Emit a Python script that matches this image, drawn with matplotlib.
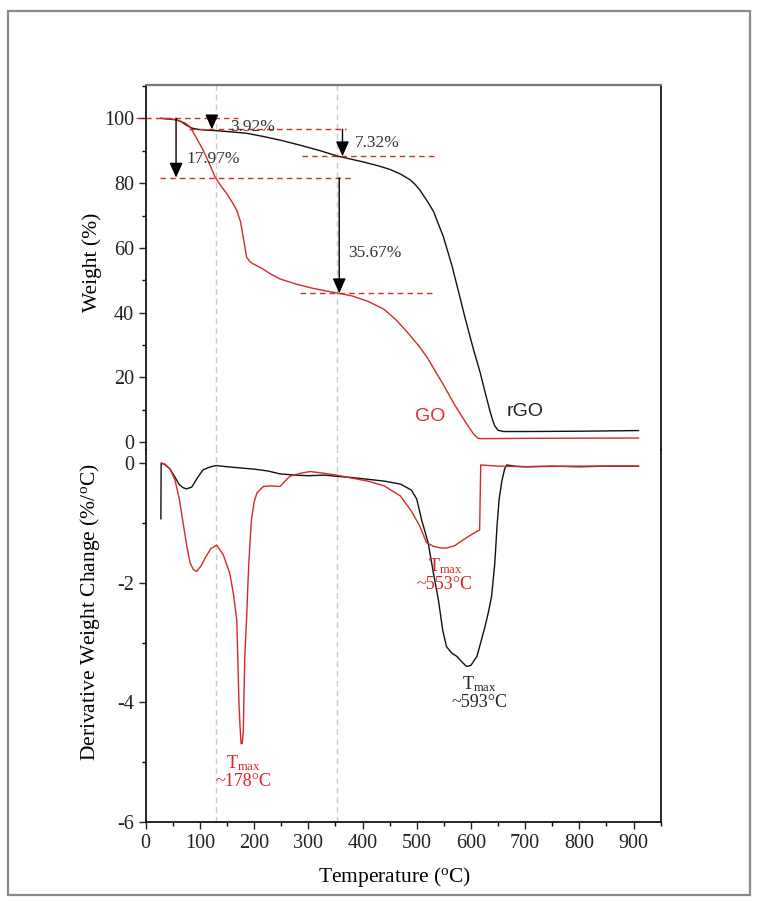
import matplotlib
matplotlib.use("Agg")
import matplotlib.pyplot as plt
from matplotlib.patches import Rectangle
from matplotlib.ticker import MultipleLocator

plt.rcParams['font.family'] = ['Liberation Serif', 'DejaVu Serif']
plt.rcParams['mathtext.fontset'] = 'custom'
plt.rcParams['mathtext.rm'] = 'Liberation Serif'
plt.rcParams['mathtext.it'] = 'Liberation Serif:italic'
plt.rcParams['axes.unicode_minus'] = False

# ---------------- data ----------------
rgo_tga_T = [28, 40, 55, 65, 75, 85, 96, 110, 130, 160, 186, 220, 250, 285, 320, 355,
             400, 430, 451, 470, 488, 497, 506, 520, 531, 549, 565, 580, 589, 605, 617,
             627, 635, 640, 644, 650, 660, 700, 800, 909]
rgo_tga_W = [100, 99.8, 99.6, 99.0, 97.9, 97.0, 96.6, 96.4, 96.2, 95.8, 95.4, 94.3, 93.2,
             91.7, 90.1, 88.3, 86.6, 85.3, 84.2, 82.8, 81.0, 79.6, 77.8, 74.3, 71.2, 63.5,
             54.5, 44.5, 38.5, 28.4, 21.5, 14.8, 9.7, 6.8, 5.0, 3.7, 3.3, 3.3, 3.4, 3.6]

go_tga_T = [28, 45, 60, 72, 82, 95, 105, 112, 120, 128, 138, 149, 160, 168, 175, 180,
            186, 192, 198, 215, 230, 248, 280, 309, 352, 380, 410, 440, 463, 485, 505,
            520, 534, 550, 570, 590, 605, 613, 620, 700, 909]
go_tga_W = [100, 99.9, 99.4, 98.6, 97.4, 93.5, 90.5, 88.0, 85.0, 81.9, 79.3, 76.9, 74.0,
            71.6, 68.0, 63.3, 57.2, 55.8, 55.1, 53.6, 52.0, 50.4, 48.7, 47.5, 46.1, 45.2,
            43.5, 41.0, 37.6, 33.5, 29.5, 26.0, 22.0, 17.5, 11.5, 6.2, 2.5, 1.2, 1.1, 1.2, 1.3]

rgo_dtg_T = [28, 28.5, 35, 45, 55, 62, 69, 75, 85, 95, 106, 120, 130, 150, 175, 200, 225,
             248, 275, 300, 330, 352, 380, 410, 440, 470, 490, 500, 509, 521, 530, 540,
             548, 555, 565, 574, 584, 592, 600, 611, 618, 626, 632, 638, 644, 648, 652,
             657, 662, 666, 680, 700, 750, 800, 850, 909]
rgo_dtg_D = [-0.93, 0.0, -0.02, -0.1, -0.25, -0.36, -0.41, -0.43, -0.40, -0.25, -0.11,
             -0.06, -0.04, -0.06, -0.08, -0.10, -0.13, -0.18, -0.20, -0.21, -0.20, -0.22,
             -0.24, -0.27, -0.30, -0.35, -0.45, -0.60, -0.95, -1.33, -1.80, -2.29, -2.80,
             -3.07, -3.18, -3.23, -3.33, -3.40, -3.38, -3.23, -3.00, -2.73, -2.50, -2.23,
             -1.67, -1.06, -0.60, -0.30, -0.10, -0.03, -0.05, -0.06, -0.05, -0.06, -0.05, -0.05]

go_dtg_T = [30, 36, 45, 54, 62, 69, 76, 82, 88, 94, 102, 110, 120, 131, 143, 155, 162,
            168, 172, 174, 176, 178, 180, 181, 183, 186, 190, 195, 200, 205, 217, 230,
            248, 257, 266, 285, 303, 330, 352, 380, 410, 440, 470, 490, 506, 518, 531,
            545, 555, 570, 586, 600, 611, 616, 618, 650, 700, 800, 909]
go_dtg_D = [0.0, -0.02, -0.10, -0.28, -0.60, -1.00, -1.40, -1.67, -1.78, -1.81, -1.72,
            -1.58, -1.43, -1.37, -1.53, -1.84, -2.20, -2.62, -4.00, -4.40, -4.69, -4.69,
            -4.50, -4.00, -3.20, -2.62, -1.70, -0.95, -0.65, -0.50, -0.39, -0.38, -0.39,
            -0.30, -0.22, -0.17, -0.14, -0.17, -0.20, -0.25, -0.30, -0.38, -0.55, -0.80,
            -1.06, -1.33, -1.39, -1.42, -1.42, -1.38, -1.28, -1.20, -1.14, -1.12, -0.03,
            -0.05, -0.06, -0.05, -0.05]

guide_T = [130, 352]
loss_labels = ['3.92%', '17.97%', '7.32%', '35.67%']

RED = '#d42a2a'
BLACK = '#111111'

fig = plt.figure(figsize=(7.58, 9.01), dpi=100)
fig.patches.append(Rectangle((8 / 758, 1 - 895 / 901), (750 - 8) / 758, (895 - 11) / 901,
                             transform=fig.transFigure, fill=False, edgecolor='#8a8a8a',
                             linewidth=1.6, zorder=-1))

L, W_ = 145.7 / 758, 515 / 758
ax1 = fig.add_axes([L, 1 - 450 / 901, W_, 365 / 901])
ax2 = fig.add_axes([L, 1 - 822 / 901, W_, 372 / 901])

for ax in (ax1, ax2):
    ax.set_xlim(0, 950)
    ax.xaxis.set_major_locator(MultipleLocator(100))
    ax.xaxis.set_minor_locator(MultipleLocator(50))
    ax.tick_params(which='major', direction='out', length=5, width=1.0, labelsize=14.5,
                   right=False, top=False, colors='#222222')
    ax.tick_params(which='minor', direction='out', length=3, width=1.0, right=False, top=False)
    for t in guide_T:
        ax.axvline(t, color='#c8c8c8', linestyle=(0, (4, 3)), linewidth=1.0, zorder=0)

# ---------- top panel ----------
ax1.set_ylim(-2.4, 110.3)
ax1.yaxis.set_major_locator(MultipleLocator(20))
ax1.yaxis.set_minor_locator(MultipleLocator(10))
ax1.spines['bottom'].set_visible(False)
ax1.spines['top'].set_color('#777777')
ax1.spines['top'].set_linewidth(1.6)
ax1.spines['left'].set_linewidth(1.2)
ax1.spines['right'].set_linewidth(1.2)
ax1.tick_params(axis='x', which='both', bottom=False, labelbottom=False)
ax1.plot(rgo_tga_T, rgo_tga_W, color=BLACK, linewidth=1.0)
ax1.plot(go_tga_T, go_tga_W, color=RED, linewidth=1.0)
ax1.set_ylabel('Weight (%)', fontsize=15.5)
ax1.yaxis.set_label_coords(-0.085, 0.515)

dash = dict(color=RED, linestyle=(0, (4, 3)), linewidth=1.0, clip_on=False)
ax1.plot([-17, 170], [100, 100], **dash)
ax1.plot([80, 370], [96.6, 96.6], **dash)
ax1.plot([288, 537], [88.3, 88.3], **dash)
ax1.plot([26, 383], [81.7, 81.7], **dash)
ax1.plot([285, 531], [46.0, 46.0], **dash)

arrow = dict(arrowstyle='-|>,head_length=0.9,head_width=0.4', color='black', lw=1.0,
             shrinkA=0, shrinkB=0)
ax1.annotate('', xy=(122, 96.6), xytext=(122, 100.2), arrowprops=arrow)
ax1.annotate('', xy=(56, 81.7), xytext=(56, 100), arrowprops=arrow)
ax1.annotate('', xy=(363, 88.3), xytext=(363, 96.6), arrowprops=arrow)
ax1.annotate('', xy=(357, 46.0), xytext=(357, 81.7), arrowprops=arrow)

pct = dict(fontsize=12.5, color='#333333', va='center', ha='left')
ax1.text(155, 97.4, loss_labels[0], **pct)
ax1.text(76, 87.6, loss_labels[1], **pct)
ax1.text(386, 92.4, loss_labels[2], **pct)
ax1.text(374, 58.5, loss_labels[3], **pct)

ax1.text(525, 6.6, 'GO', color='#e03030', fontsize=14, family='Liberation Sans',
         ha='center', va='baseline')
ax1.text(699, 8.2, 'rGO', color='#222222', fontsize=14, family='Liberation Sans',
         ha='center', va='baseline')

# ---------- bottom panel ----------
ax2.set_ylim(-6, 0.22)
ax2.yaxis.set_major_locator(MultipleLocator(2))
ax2.yaxis.set_minor_locator(MultipleLocator(1))
ax2.spines['top'].set_visible(False)
for s in ('left', 'right', 'bottom'):
    ax2.spines[s].set_linewidth(1.2)
ax2.plot(rgo_dtg_T, rgo_dtg_D, color=BLACK, linewidth=1.0)
ax2.plot(go_dtg_T, go_dtg_D, color=RED, linewidth=1.0)
ax2.set_ylabel('Derivative Weight Change (%/$^{\\mathrm{o}}$C)', fontsize=15.5)
ax2.yaxis.set_label_coords(-0.085, 0.565)
ax2.set_xlabel('Temperature ($^{\\mathrm{o}}$C)', fontsize=15.5)
ax2.xaxis.set_label_coords(0.484, -0.115)

tm = dict(fontsize=13, ha='center', va='center', linespacing=1.0)
ax2.text(180, -5.15, 'T$_{\\mathrm{max}}$\n~178\u00b0C', color='#e02020', **tm)
ax2.text(552, -1.87, 'T$_{\\mathrm{max}}$\n~553\u00b0C', color='#e02020', **tm)
ax2.text(615, -3.83, 'T$_{\\mathrm{max}}$\n~593\u00b0C', color='#222222', **tm)

fig.savefig('out.png', dpi=100)
